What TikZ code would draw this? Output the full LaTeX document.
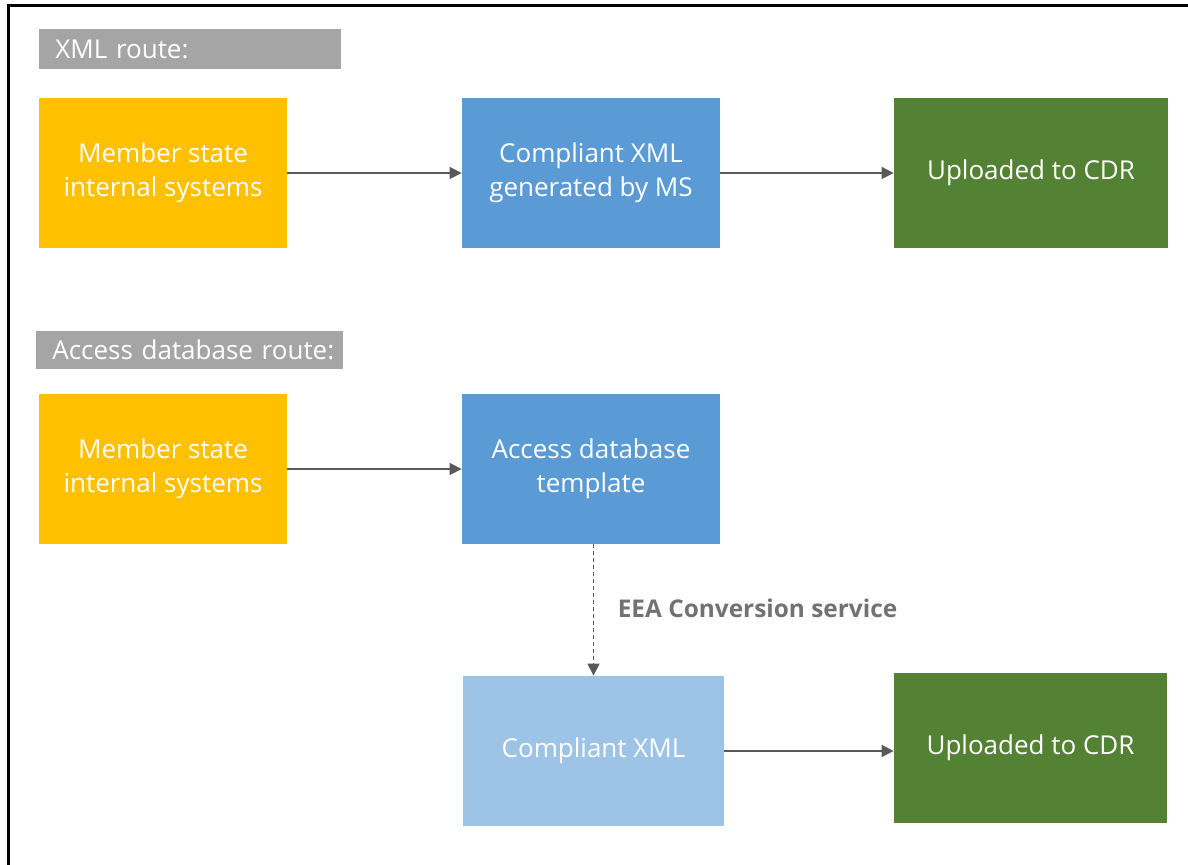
\documentclass[tikz,border=0pt]{standalone}
\usepackage{fontspec}
\setmainfont{Open Sans}
\usetikzlibrary{arrows.meta}
\definecolor{msyellow}{HTML}{FFC000}
\definecolor{msblue}{HTML}{5B9BD5}
\definecolor{mslight}{HTML}{9DC3E6}
\definecolor{msgreen}{HTML}{548235}
\definecolor{msgrey}{HTML}{A5A5A5}
\definecolor{msarrow}{HTML}{595959}
\begin{document}
\begin{tikzpicture}[x=0.5pt, y=-0.5pt,
  box/.style={rectangle, minimum height=75pt, inner sep=0pt, align=center, text=white,
    font=\fontsize{13}{17}\selectfont},
  route/.style={rectangle, fill=msgrey, text=white, anchor=west, inner xsep=8pt, inner ysep=0pt,
    align=left, font=\fontsize{13}{15}\selectfont},
  link/.style={draw=msarrow, line width=0.8pt, -{Triangle[length=6pt, width=6pt]}}]
  \useasboundingbox (0,0) rectangle (1188,865);
  \draw [black, line width=1.5pt] (1188,6) -- (8,6) -- (8,865); % frame

  % XML route
  \node[route, text width=135pt, minimum height=20pt] (xmlroute) at (39,49) {XML route:};
  \node[box, fill=msyellow, minimum width=124pt] (ms1) at (163,173) {Member state\\internal systems};
  \node[box, fill=msblue, minimum width=129pt] (xml1) at (591,173) {Compliant XML\\generated by MS};
  \node[box, fill=msgreen, minimum width=137pt] (cdr1) at (1031,173) {Uploaded to CDR};
  \draw [link] (ms1) -- (xml1);
  \draw [link] (xml1) -- (cdr1);

  % Access database route
  \node[route, text width=137.5pt, minimum height=19pt] (accroute) at (36,350) {\mbox{Access database route:}};
  \node[box, fill=msyellow, minimum width=124pt] (ms2) at (163,469) {Member state\\internal systems};
  \node[box, fill=msblue, minimum width=129pt] (acc) at (591,469) {Access database\\template};
  \node[box, fill=mslight, minimum width=130.5pt] (xml2) at (593.5,751) {Compliant XML};
  \node[box, fill=msgreen, minimum width=136.5pt] (cdr2) at (1030.5,748) {Uploaded to CDR};
  \draw [link] (ms2) -- (acc);
  \draw [link, dash pattern=on 2pt off 1.5pt, line width=0.6pt] (acc.south -| xml2.north) -- (xml2.north)
    node[midway, anchor=west, xshift=8.5pt, yshift=1pt, text=msarrow!85!white,
      font=\fontsize{12.2}{15}\selectfont\bfseries] (conv) {EEA Conversion service};
  \draw [link] (xml2.east) -- (xml2.east -| cdr2.west);
\end{tikzpicture}
\end{document}
